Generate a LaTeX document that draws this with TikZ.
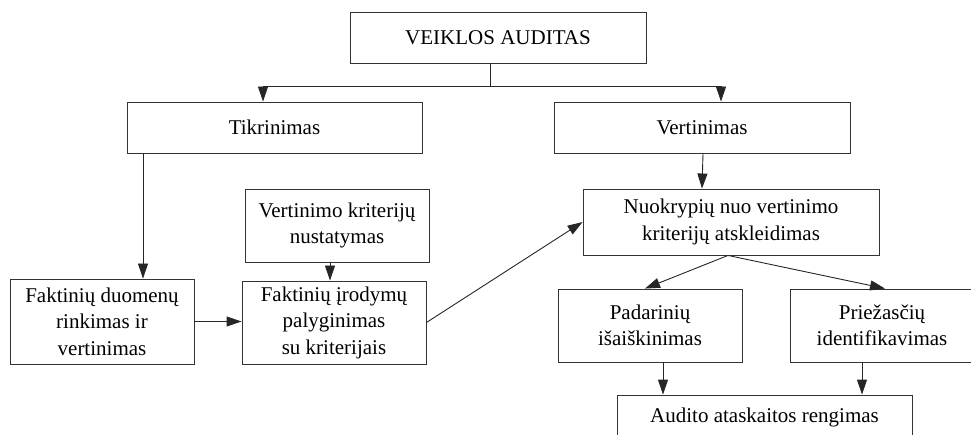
\documentclass[tikz,border=0pt]{standalone}
\usepackage{fontspec}
\setmainfont{Liberation Serif}
\usetikzlibrary{arrows.meta,calc}
\begin{document}
\begin{tikzpicture}[x=1pt,y=-1pt,
  box/.style={draw=black!80, line width=0.9pt, inner sep=0pt, align=center,
    font=\fontsize{21}{26.5}\selectfont, text=black},
  arr/.style={draw=black!85, line width=0.9pt, -{Triangle[length=15pt,width=10pt]}},
  ln/.style={draw=black!85, line width=0.9pt}]
\useasboundingbox (0,0) rectangle (971,435);
\node[box, minimum width=296pt, minimum height=51pt] (top) at (498,37.5) {VEIKLOS AUDITAS};
\node[box, minimum width=295pt, minimum height=51pt] (tik) at (274.5,127.5) {Tikrinimas};
\node[box, minimum width=296pt, minimum height=51pt] (ver) at (702,127.5) {Vertinimas};
\node[box, minimum width=184pt, minimum height=73pt] (vk) at (337,225.5) {Vertinimo kriterijų\\nustatymas};
\node[box, minimum width=184pt, minimum height=85pt] (fd) at (102,321.5) {Faktinių duomenų\\rinkimas ir\\vertinimas};
\node[box, minimum width=184pt, minimum height=83pt] (fi) at (334,322.5) {Faktinių įrodymų\\palyginimas\\su kriterijais};
\node[box, minimum width=296pt, minimum height=66pt] (nk) at (731,222) {Nuokrypių nuo vertinimo\\kriterijų atskleidimas};
\node[box, minimum width=184pt, minimum height=73pt] (pad) at (650,325.5) {Padarinių\\išaiškinimas};
\node[box, minimum width=184pt, minimum height=73pt] (pri) at (882,325.5) {Priežasčių\\identifikavimas};
\node[box, minimum width=295pt, minimum height=66pt] (aud) at (764.5,428) {};
\node[font=\fontsize{21}{26.5}\selectfont, text=black, anchor=base] (audt) at (764.5,422) {Audito ataskaitos rengimas};
% junction
\coordinate (j) at (490,86);
\coordinate (jl) at (263,86);
\coordinate (jr) at (721,86);
\draw[ln] (j |- top.south) -- (j);
\draw[ln] (jl) -- (jr);
\draw[arr] (jl) -- (jl |- tik.north);
\draw[arr] (jr) -- (jr |- ver.north);
% left branch
\coordinate (c1) at (143,0);
\draw[arr] (tik.south -| c1) -- (fd.north -| c1);
\coordinate (c2) at (330,0);
\draw[arr] (vk.south -| c2) -- (fi.north -| c2);
\draw[arr] (fd.east) -- (fi.west |- fd.east);
\draw[arr] (fi.east) -- (nk.west);
% right branch
\draw[arr] ($(ver.south)+(1,0)$) -- ($(nk.north)+(-29,0)$);
\coordinate (nb) at ($(nk.south)+(-3,0)$);
\draw[arr] (nb) -- ($(pad.north)+(-5,0)$);
\draw[arr] (nb) -- ($(pri.north)+(3,0)$);
\coordinate (c3) at (663,0);
\coordinate (c4) at (862,0);
\draw[arr] (pad.south -| c3) -- (aud.north -| c3);
\draw[arr] (pri.south -| c4) -- (aud.north -| c4);
\end{tikzpicture}
\end{document}
